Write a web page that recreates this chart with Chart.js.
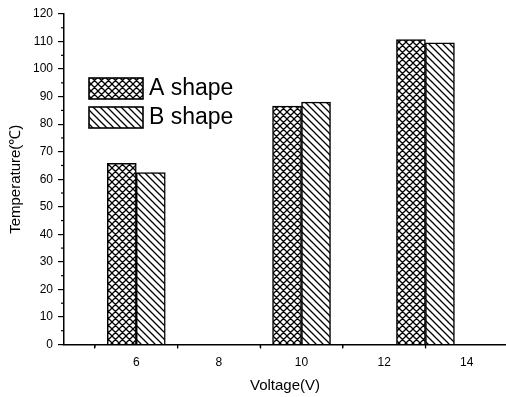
<!DOCTYPE html>
<html>
<head>
<meta charset="utf-8">
<script src="https://cdn.jsdelivr.net/npm/chart.js@4.4.0/dist/chart.umd.min.js"></script>
<style>
  html, body { margin: 0; padding: 0; background: #fff; }
  #wrap { width: 506px; height: 397px; }
</style>
</head>
<body>
<div id="wrap"><canvas id="grafico"></canvas></div>
<script>
const voltages = [6, 10, 13];
const shapeA = [65.8, 86.6, 110.7];
const shapeB = [62.4, 88.0, 109.5];
const seriesLabels = ['A shape', 'B shape'];
const FONT = '"Liberation Sans", Arial, sans-serif';

function hatch(size, cross) {
    const c = document.createElement('canvas');
    c.width = size;
    c.height = size;
    const g = c.getContext('2d');
    g.fillStyle = '#fff';
    g.fillRect(0, 0, size, size);
    g.strokeStyle = '#000';
    g.lineWidth = 1.3;
    g.beginPath();
    g.moveTo(-1, -1); g.lineTo(size + 1, size + 1);
    g.moveTo(size - 1, -1); g.lineTo(size + 1, 1);
    g.moveTo(-1, size - 1); g.lineTo(1, size + 1);
    if (cross) {
        g.moveTo(-1, size + 1); g.lineTo(size + 1, -1);
        g.moveTo(-1, 1); g.lineTo(1, -1);
        g.moveTo(size - 1, size + 1); g.lineTo(size + 1, size - 1);
    }
    g.stroke();
    return g.createPattern(c, 'repeat');
}

const fillA = hatch(7, true);
const fillB = hatch(7, false);

function pontos(valores) {
    return voltages.map((v, i) => ({ x: v, y: valores[i] }));
}

// minor ticks halfway between the major ones
const minorTicks = {
    id: 'minorTicks',
    afterDraw(chart) {
        const ctx = chart.ctx;
        ctx.save();
        ctx.strokeStyle = '#000';
        ctx.lineWidth = 1.2;
        ['x', 'y'].forEach(id => {
            const s = chart.scales[id];
            const vals = s.ticks.map(t => t.value);
            if (vals.length < 2) return;
            const step = vals[1] - vals[0];
            const meios = [vals[0] - step / 2];
            vals.forEach(v => meios.push(v + step / 2));
            meios.forEach(m => {
                if (m < s.min || m > s.max) return;
                const p = s.getPixelForValue(m);
                ctx.beginPath();
                if (id === 'x') {
                    ctx.moveTo(p, s.top);
                    ctx.lineTo(p, s.top + 3);
                } else {
                    ctx.moveTo(s.right, p);
                    ctx.lineTo(s.right - 3, p);
                }
                ctx.stroke();
            });
        });
        ctx.restore();
    }
};

const legendaPropria = {
    id: 'legendaPropria',
    afterDraw(chart) {
        const ctx = chart.ctx;
        ctx.save();
        chart.data.datasets.forEach((ds, i) => {
            const y = 78 + i * 29;
            ctx.fillStyle = ds.backgroundColor;
            ctx.fillRect(89, y, 54, 21);
            ctx.strokeStyle = '#000';
            ctx.lineWidth = 1.6;
            ctx.strokeRect(89, y, 54, 21);
            ctx.fillStyle = '#000';
            ctx.font = '23px ' + FONT;
            ctx.textBaseline = 'middle';
            ctx.fillText(ds.label, 149, y + 11);
        });
        ctx.restore();
    }
};

new Chart(document.getElementById('grafico'), {
    type: 'bar',
    data: {
        datasets: [
            {
                label: seriesLabels[0],
                data: pontos(shapeA),
                backgroundColor: fillA,
                borderColor: '#000',
                borderWidth: 1.5,
                barThickness: 29
            },
            {
                label: seriesLabels[1],
                data: pontos(shapeB),
                backgroundColor: fillB,
                borderColor: '#000',
                borderWidth: 1.5,
                barThickness: 29
            }
        ]
    },
    options: {
        responsive: true,
        maintainAspectRatio: false,
        animation: false,
        layout: { padding: { top: 14, right: 0, left: 0, bottom: 0 } },
        plugins: {
            legend: { display: false },
            tooltip: { enabled: false }
        },
        scales: {
            x: {
                type: 'linear',
                min: 4.25,
                max: 14.95,
                offset: false,
                afterFit: s => { s.height = 52.5; },
                border: { color: '#000', width: 1.5 },
                grid: { drawOnChartArea: false, tickLength: 4, color: '#000', lineWidth: 1.2 },
                ticks: {
                    stepSize: 2,
                    includeBounds: false,
                    color: '#000',
                    padding: 7,
                    font: { family: FONT, size: 12 }
                },
                title: {
                    display: true,
                    text: 'Voltage(V)',
                    color: '#000',
                    padding: { top: 0, bottom: 2 },
                    font: { family: FONT, size: 15 }
                }
            },
            y: {
                min: 0,
                max: 120,
                afterFit: s => { s.width = 64; },
                border: { color: '#000', width: 1.5 },
                grid: { drawOnChartArea: false, tickLength: 6, color: '#000', lineWidth: 1.2 },
                ticks: {
                    stepSize: 10,
                    color: '#000',
                    padding: 5,
                    font: { family: FONT, size: 12 }
                },
                title: {
                    display: true,
                    text: 'Temperature(℃)',
                    color: '#000',
                    padding: { top: 7, bottom: 0 },
                    font: { family: FONT, size: 15 }
                }
            }
        }
    },
    plugins: [minorTicks, legendaPropria]
});
</script>
</body>
</html>
